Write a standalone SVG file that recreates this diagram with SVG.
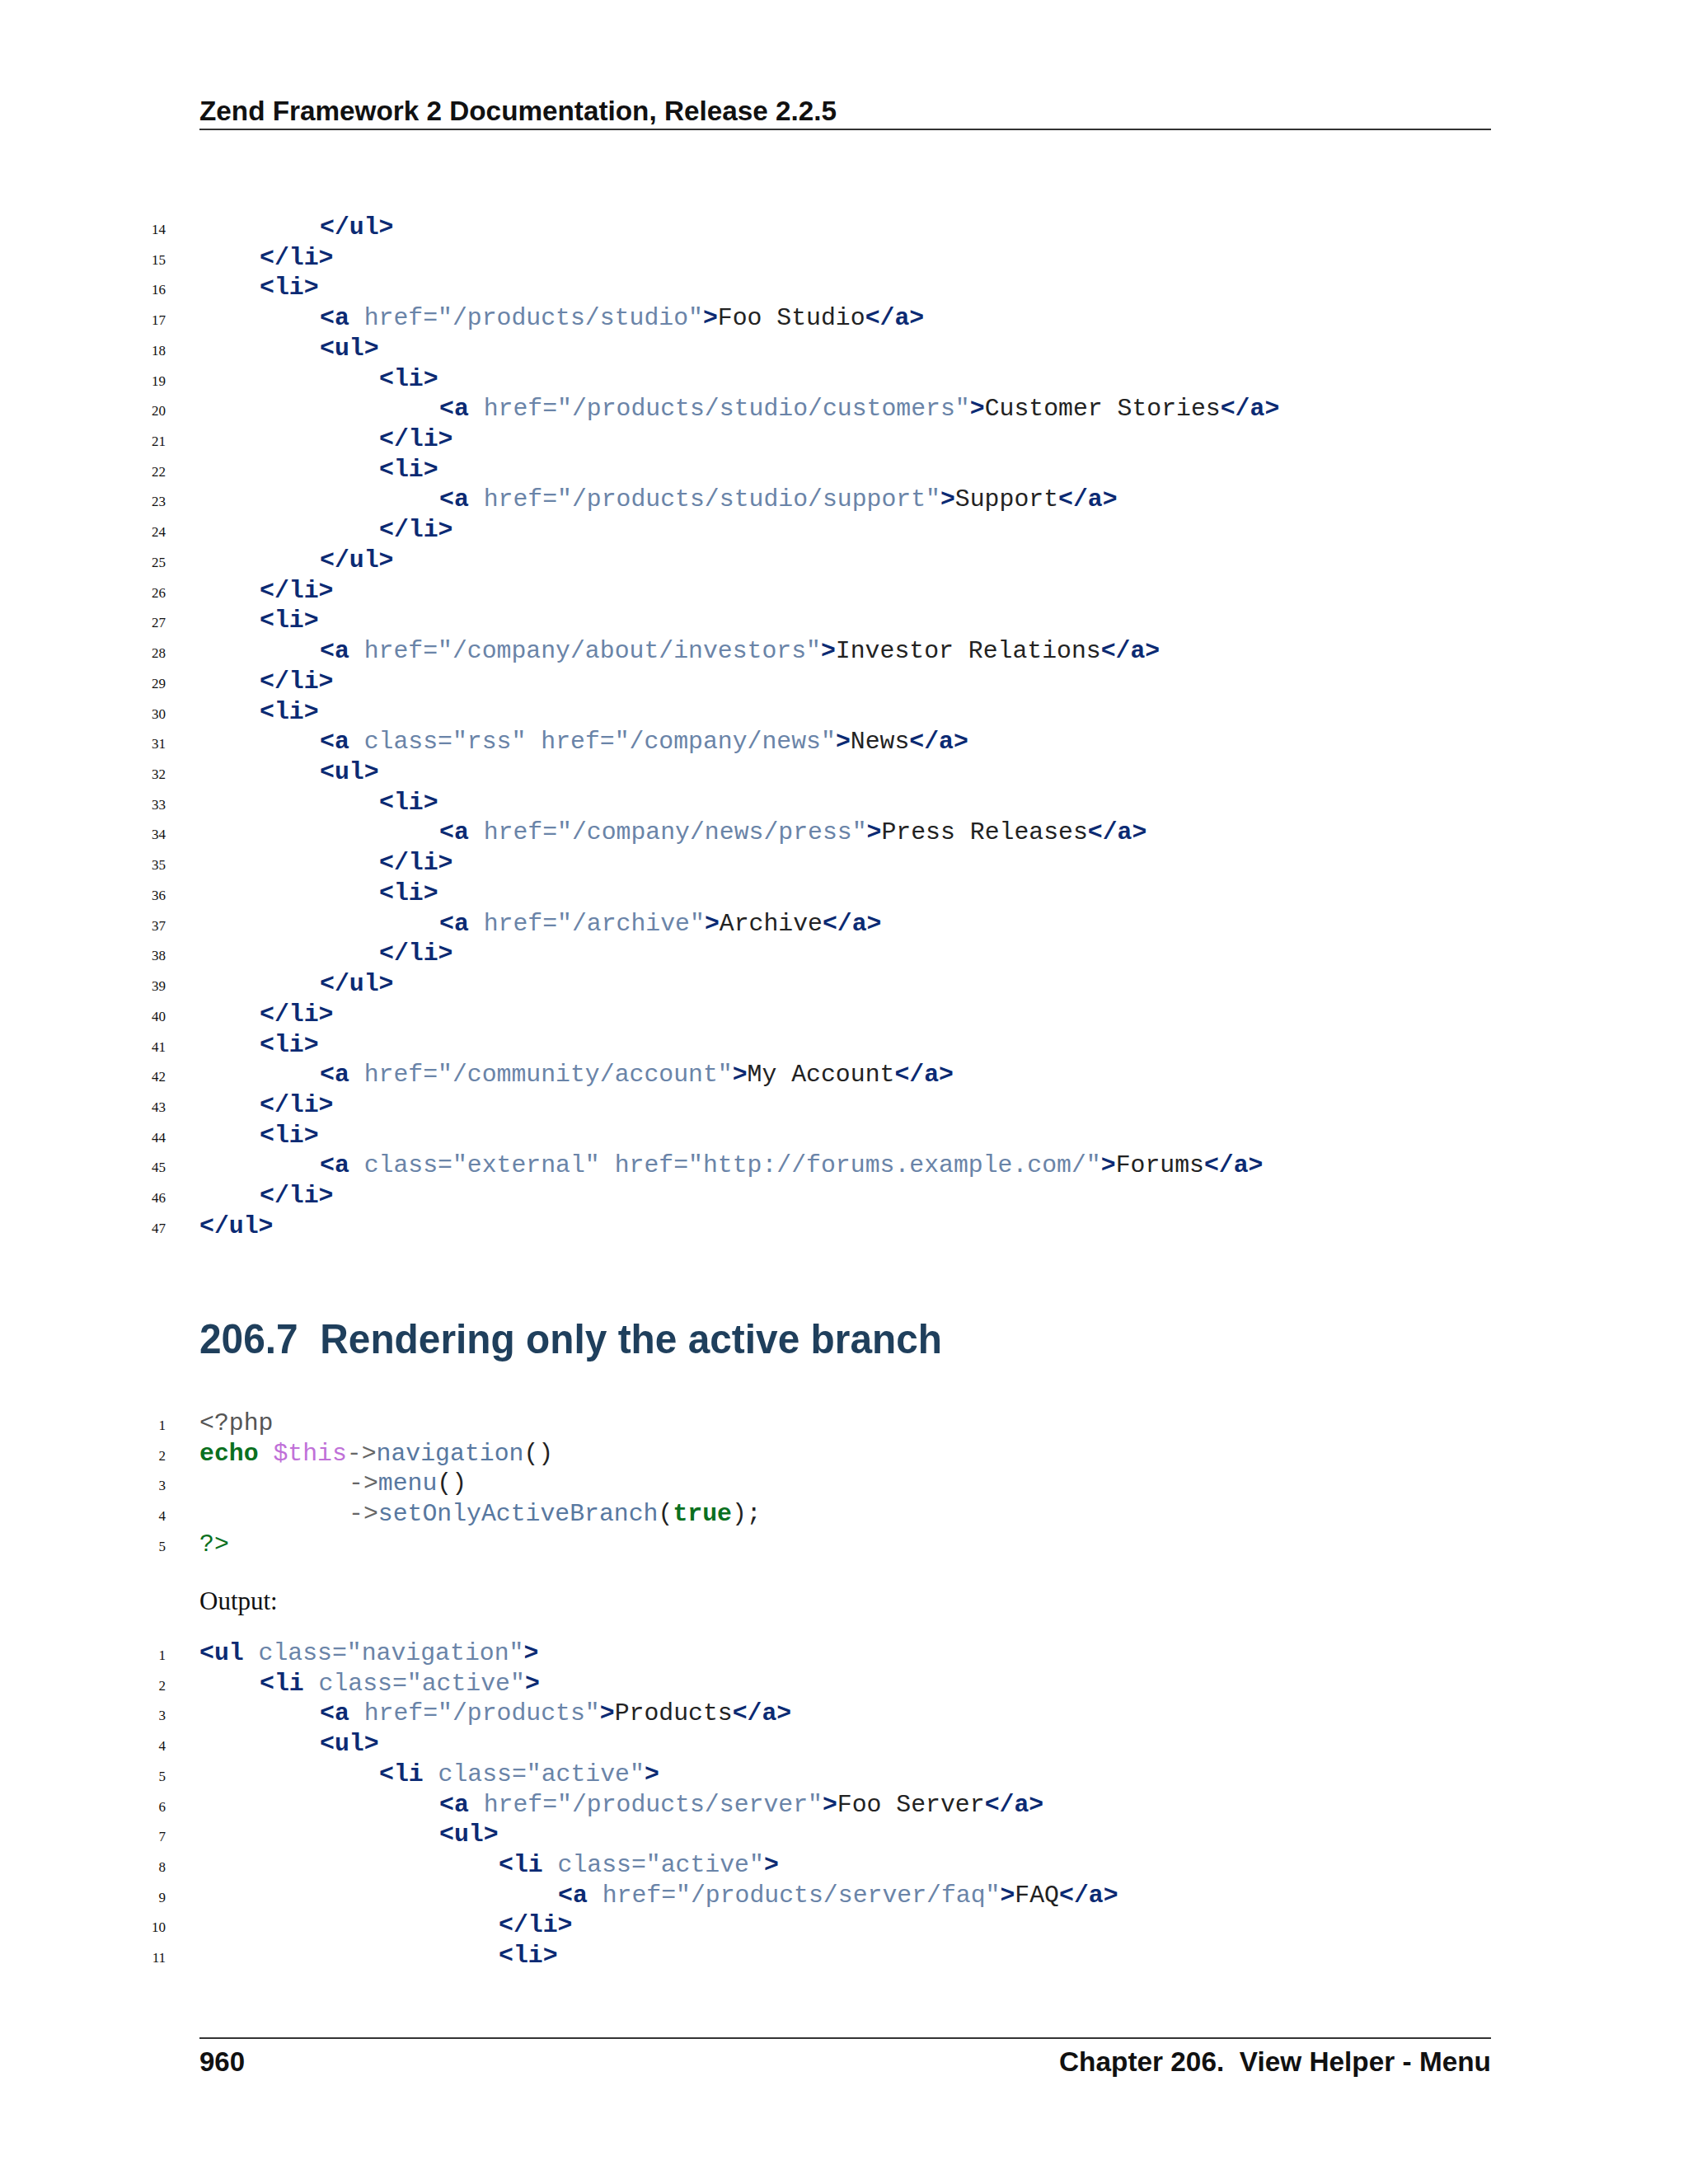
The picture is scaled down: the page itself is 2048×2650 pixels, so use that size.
<svg xmlns="http://www.w3.org/2000/svg" width="2048" height="2650" viewBox="0 0 2048 2650">
<style>
.c{font-family:"Liberation Mono",monospace;font-size:29.8px;fill:#222}
.t{font-weight:bold;fill:#0b2a73}
.a{fill:#6a84a8}
.n{font-family:"Liberation Serif",serif;font-size:17px;fill:#111;text-anchor:end}
.kw{font-weight:bold;fill:#0a7020}
.v{fill:#c070d8}
.o{fill:#666}
.f{fill:#5878a0}
.cp{fill:#555}
</style>
<rect width="2048" height="2650" fill="#ffffff"/>
<g id="header">
<text x="242" y="146" font-family="Liberation Sans, sans-serif" font-weight="bold" font-size="34" fill="#111" textLength="773" lengthAdjust="spacingAndGlyphs">Zend Framework 2 Documentation, Release 2.2.5</text>
<line x1="242" y1="157" x2="1809" y2="157" stroke="#333" stroke-width="2"/>
</g>
<g id="code1" class="c">
<text class="n" x="201" y="284">14</text><text x="388" y="284" class="t">&lt;/ul&gt;</text>
<text class="n" x="201" y="321">15</text><text x="315" y="321" class="t">&lt;/li&gt;</text>
<text class="n" x="201" y="357">16</text><text x="315" y="357" class="t">&lt;li&gt;</text>
<text class="n" x="201" y="394">17</text><text x="388" y="394"><tspan class="t">&lt;a</tspan> <tspan class="a">href="/products/studio"</tspan><tspan class="t">&gt;</tspan>Foo Studio<tspan class="t">&lt;/a&gt;</tspan></text>
<text class="n" x="201" y="431">18</text><text x="388" y="431" class="t">&lt;ul&gt;</text>
<text class="n" x="201" y="468">19</text><text x="460" y="468" class="t">&lt;li&gt;</text>
<text class="n" x="201" y="504">20</text><text x="533" y="504"><tspan class="t">&lt;a</tspan> <tspan class="a">href="/products/studio/customers"</tspan><tspan class="t">&gt;</tspan>Customer Stories<tspan class="t">&lt;/a&gt;</tspan></text>
<text class="n" x="201" y="541">21</text><text x="460" y="541" class="t">&lt;/li&gt;</text>
<text class="n" x="201" y="578">22</text><text x="460" y="578" class="t">&lt;li&gt;</text>
<text class="n" x="201" y="614">23</text><text x="533" y="614"><tspan class="t">&lt;a</tspan> <tspan class="a">href="/products/studio/support"</tspan><tspan class="t">&gt;</tspan>Support<tspan class="t">&lt;/a&gt;</tspan></text>
<text class="n" x="201" y="651">24</text><text x="460" y="651" class="t">&lt;/li&gt;</text>
<text class="n" x="201" y="688">25</text><text x="388" y="688" class="t">&lt;/ul&gt;</text>
<text class="n" x="201" y="725">26</text><text x="315" y="725" class="t">&lt;/li&gt;</text>
<text class="n" x="201" y="761">27</text><text x="315" y="761" class="t">&lt;li&gt;</text>
<text class="n" x="201" y="798">28</text><text x="388" y="798"><tspan class="t">&lt;a</tspan> <tspan class="a">href="/company/about/investors"</tspan><tspan class="t">&gt;</tspan>Investor Relations<tspan class="t">&lt;/a&gt;</tspan></text>
<text class="n" x="201" y="835">29</text><text x="315" y="835" class="t">&lt;/li&gt;</text>
<text class="n" x="201" y="872">30</text><text x="315" y="872" class="t">&lt;li&gt;</text>
<text class="n" x="201" y="908">31</text><text x="388" y="908"><tspan class="t">&lt;a</tspan> <tspan class="a">class="rss"</tspan> <tspan class="a">href="/company/news"</tspan><tspan class="t">&gt;</tspan>News<tspan class="t">&lt;/a&gt;</tspan></text>
<text class="n" x="201" y="945">32</text><text x="388" y="945" class="t">&lt;ul&gt;</text>
<text class="n" x="201" y="982">33</text><text x="460" y="982" class="t">&lt;li&gt;</text>
<text class="n" x="201" y="1018">34</text><text x="533" y="1018"><tspan class="t">&lt;a</tspan> <tspan class="a">href="/company/news/press"</tspan><tspan class="t">&gt;</tspan>Press Releases<tspan class="t">&lt;/a&gt;</tspan></text>
<text class="n" x="201" y="1055">35</text><text x="460" y="1055" class="t">&lt;/li&gt;</text>
<text class="n" x="201" y="1092">36</text><text x="460" y="1092" class="t">&lt;li&gt;</text>
<text class="n" x="201" y="1129">37</text><text x="533" y="1129"><tspan class="t">&lt;a</tspan> <tspan class="a">href="/archive"</tspan><tspan class="t">&gt;</tspan>Archive<tspan class="t">&lt;/a&gt;</tspan></text>
<text class="n" x="201" y="1165">38</text><text x="460" y="1165" class="t">&lt;/li&gt;</text>
<text class="n" x="201" y="1202">39</text><text x="388" y="1202" class="t">&lt;/ul&gt;</text>
<text class="n" x="201" y="1239">40</text><text x="315" y="1239" class="t">&lt;/li&gt;</text>
<text class="n" x="201" y="1276">41</text><text x="315" y="1276" class="t">&lt;li&gt;</text>
<text class="n" x="201" y="1312">42</text><text x="388" y="1312"><tspan class="t">&lt;a</tspan> <tspan class="a">href="/community/account"</tspan><tspan class="t">&gt;</tspan>My Account<tspan class="t">&lt;/a&gt;</tspan></text>
<text class="n" x="201" y="1349">43</text><text x="315" y="1349" class="t">&lt;/li&gt;</text>
<text class="n" x="201" y="1386">44</text><text x="315" y="1386" class="t">&lt;li&gt;</text>
<text class="n" x="201" y="1422">45</text><text x="388" y="1422"><tspan class="t">&lt;a</tspan> <tspan class="a">class="external"</tspan> <tspan class="a">href="http://forums.example.com/"</tspan><tspan class="t">&gt;</tspan>Forums<tspan class="t">&lt;/a&gt;</tspan></text>
<text class="n" x="201" y="1459">46</text><text x="315" y="1459" class="t">&lt;/li&gt;</text>
<text class="n" x="201" y="1496">47</text><text x="242" y="1496" class="t">&lt;/ul&gt;</text>
</g>
<g id="heading">
<text x="242" y="1642" font-family="Liberation Sans, sans-serif" font-weight="bold" font-size="50" fill="#1f3f5c" textLength="901" lengthAdjust="spacingAndGlyphs" xml:space="preserve">206.7  Rendering only the active branch</text>
</g>
<g id="code2" class="c">
<text class="n" x="201" y="1735">1</text><text x="242" y="1735" class="cp">&lt;?php</text>
<text class="n" x="201" y="1772">2</text><text x="242" y="1772"><tspan class="kw">echo</tspan> <tspan class="v">$this</tspan><tspan class="o">-&gt;</tspan><tspan class="f">navigation</tspan>()</text>
<text class="n" x="201" y="1808">3</text><text x="423" y="1808"><tspan class="o">-&gt;</tspan><tspan class="f">menu</tspan>()</text>
<text class="n" x="201" y="1845">4</text><text x="423" y="1845"><tspan class="o">-&gt;</tspan><tspan class="f">setOnlyActiveBranch</tspan>(<tspan class="kw">true</tspan>);</text>
<text class="n" x="201" y="1882">5</text><text x="242" y="1882" fill="#0a7020">?&gt;</text>
</g>
<text x="242" y="1953" font-family="Liberation Serif, serif" font-size="31" fill="#111">Output:</text>
<g id="code3" class="c">
<text class="n" x="201" y="2014">1</text><text x="242" y="2014"><tspan class="t">&lt;ul</tspan> <tspan class="a">class="navigation"</tspan><tspan class="t">&gt;</tspan></text>
<text class="n" x="201" y="2051">2</text><text x="315" y="2051"><tspan class="t">&lt;li</tspan> <tspan class="a">class="active"</tspan><tspan class="t">&gt;</tspan></text>
<text class="n" x="201" y="2087">3</text><text x="388" y="2087"><tspan class="t">&lt;a</tspan> <tspan class="a">href="/products"</tspan><tspan class="t">&gt;</tspan>Products<tspan class="t">&lt;/a&gt;</tspan></text>
<text class="n" x="201" y="2124">4</text><text x="388" y="2124" class="t">&lt;ul&gt;</text>
<text class="n" x="201" y="2161">5</text><text x="460" y="2161"><tspan class="t">&lt;li</tspan> <tspan class="a">class="active"</tspan><tspan class="t">&gt;</tspan></text>
<text class="n" x="201" y="2198">6</text><text x="533" y="2198"><tspan class="t">&lt;a</tspan> <tspan class="a">href="/products/server"</tspan><tspan class="t">&gt;</tspan>Foo Server<tspan class="t">&lt;/a&gt;</tspan></text>
<text class="n" x="201" y="2234">7</text><text x="533" y="2234" class="t">&lt;ul&gt;</text>
<text class="n" x="201" y="2271">8</text><text x="605" y="2271"><tspan class="t">&lt;li</tspan> <tspan class="a">class="active"</tspan><tspan class="t">&gt;</tspan></text>
<text class="n" x="201" y="2308">9</text><text x="677" y="2308"><tspan class="t">&lt;a</tspan> <tspan class="a">href="/products/server/faq"</tspan><tspan class="t">&gt;</tspan>FAQ<tspan class="t">&lt;/a&gt;</tspan></text>
<text class="n" x="201" y="2344">10</text><text x="605" y="2344" class="t">&lt;/li&gt;</text>
<text class="n" x="201" y="2381">11</text><text x="605" y="2381" class="t">&lt;li&gt;</text>
</g>
<g id="footer">
<line x1="242" y1="2473" x2="1809" y2="2473" stroke="#333" stroke-width="2"/>
<text x="242" y="2513" font-family="Liberation Sans, sans-serif" font-weight="bold" font-size="33" fill="#111">960</text>
<text x="1809" y="2513" text-anchor="end" font-family="Liberation Sans, sans-serif" font-weight="bold" font-size="33" fill="#111" textLength="524" lengthAdjust="spacingAndGlyphs" xml:space="preserve">Chapter 206.  View Helper - Menu</text>
</g>
</svg>
